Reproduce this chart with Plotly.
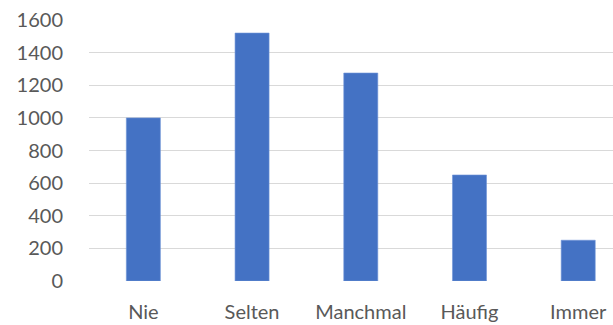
import plotly.graph_objects as go

categories = ["Nie", "Selten", "Manchmal", "Häufig", "Immer"]
values = [1000, 1520, 1275, 650, 250]
y_ticks = [0, 200, 400, 600, 800, 1000, 1200, 1400, 1600]

fig = go.Figure(
    go.Bar(
        x=categories,
        y=values,
        width=0.313,
        marker=dict(color="#4472C4", line=dict(color="#6f93d6", width=0.6)),
    )
)

fig.update_layout(
    width=613,
    height=325,
    margin=dict(l=89, r=0, t=20, b=44),
    paper_bgcolor="white",
    plot_bgcolor="white",
    showlegend=False,
    font=dict(family="Lato", size=20, color="#595959"),
    xaxis=dict(
        type="category",
        range=[-0.5, 4.32],
        showgrid=False,
        showline=False,
        zeroline=False,
        ticks="outside",
        ticklen=13,
        tickcolor="rgba(0,0,0,0)",
        tickfont=dict(family="Lato", size=20, color="#595959"),
    ),
    yaxis=dict(
        range=[0, 1600],
        tickvals=y_ticks,
        ticktext=[str(v) for v in y_ticks],
        showgrid=True,
        gridcolor="#d9d9d9",
        gridwidth=1.3,
        zeroline=False,
        showline=False,
        ticks="outside",
        ticklen=21,
        tickcolor="rgba(0,0,0,0)",
        tickfont=dict(family="Lato", size=20, color="#595959"),
    ),
)

fig.write_html("out.html")
